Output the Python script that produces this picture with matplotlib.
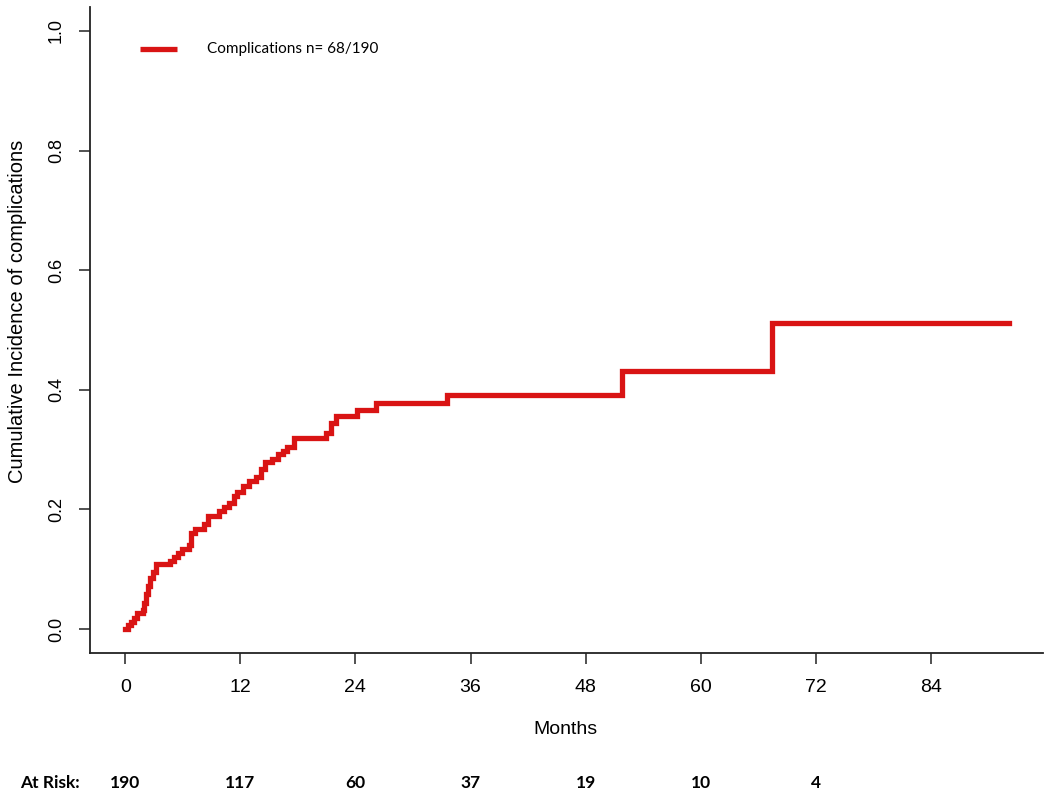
import matplotlib
matplotlib.use("Agg")
import matplotlib.pyplot as plt
import matplotlib.transforms as mtransforms

# event times (months) and cumulative incidence
months = [0, 0.3, 0.6, 0.9, 1.2, 1.8, 2.0, 2.2, 2.4, 2.6, 2.9, 3.2, 4.7, 5.1,
          5.5, 5.9, 6.6, 6.9, 7.3, 8.2, 8.6, 9.8, 10.3, 10.8, 11.3, 11.7, 12.3,
          12.9, 13.6, 14.1, 14.6, 15.3, 15.9, 16.4, 16.9, 17.6, 20.9, 21.4,
          22.0, 24.2, 26.1, 33.5, 51.8, 67.4]
incidence = [0, 0.006, 0.012, 0.018, 0.027, 0.032, 0.044, 0.058, 0.072, 0.085,
             0.096, 0.108, 0.114, 0.121, 0.127, 0.134, 0.141, 0.160, 0.168,
             0.175, 0.189, 0.198, 0.204, 0.211, 0.222, 0.230, 0.240, 0.248,
             0.255, 0.268, 0.279, 0.285, 0.292, 0.298, 0.304, 0.319, 0.328,
             0.344, 0.356, 0.366, 0.378, 0.391, 0.432, 0.512]
last_followup = 92.2

risk_months = [0, 12, 24, 36, 48, 60, 72]
at_risk = [190, 117, 60, 37, 19, 10, 4]

x_ticks = [0, 12, 24, 36, 48, 60, 72, 84]
y_ticks = [0.0, 0.2, 0.4, 0.6, 0.8, 1.0]

red = "#d91414"
regular = ["Liberation Sans", "DejaVu Sans"]
calibri_like = ["Lato", "DejaVu Sans"]

fig = plt.figure(figsize=(10.5, 7.97), dpi=100)
ax = fig.add_axes([90 / 1050, 144 / 797, (1043 - 90) / 1050, (790 - 144) / 797])

xs = months + [last_followup]
ys = incidence + [incidence[-1]]
ax.step(xs, ys, where="post", color=red, lw=3.8, solid_joinstyle="miter")

ax.set_xlim(-3.68, 95.7)
ax.set_ylim(-0.04, 1.04)

for side in ["top", "right"]:
    ax.spines[side].set_visible(False)
for side in ["left", "bottom"]:
    ax.spines[side].set_color("#222222")
    ax.spines[side].set_linewidth(1.3)

ax.set_xticks(x_ticks)
ax.set_xticklabels([str(t) for t in x_ticks], family=regular, fontsize=14)
ax.set_yticks(y_ticks)
ax.set_yticklabels(["%.1f" % t for t in y_ticks], family=regular, fontsize=13,
                   rotation=90, va="center")
ax.tick_params(axis="x", length=8, width=1.1, color="#222222", pad=11)
ax.tick_params(axis="y", length=8, width=1.1, color="#222222", pad=10)

fig.text(18 / 1050, 1 - 311 / 797, "Cumulative Incidence of complications",
         rotation=90, ha="center", va="center", family=regular, fontsize=14.5)
fig.text(565 / 1050, 1 - 730 / 797, "Months", ha="center", va="center",
         family=regular, fontsize=14)

# legend drawn by hand, as in the base R plot
fig.add_artist(plt.Line2D([140 / 1050, 177 / 1050], [1 - 49 / 797, 1 - 49 / 797],
                          color=red, lw=3.8, solid_capstyle="butt"))
fig.text(207 / 1050, 1 - 49 / 797, "Complications n= 68/190", ha="left",
         va="center", family=calibri_like, fontsize=11)

# number at risk table
trans = mtransforms.blended_transform_factory(ax.transData, fig.transFigure)
fig.text(20 / 1050, 1 - 783 / 797, "At Risk:", ha="left", va="center",
         family=calibri_like, fontsize=12.5, fontweight="bold")
for m, n in zip(risk_months, at_risk):
    ax.text(m, 1 - 783 / 797, str(n), transform=trans, ha="center", va="center",
            family=calibri_like, fontsize=12.5, fontweight="bold", clip_on=False)

fig.savefig("out.png", dpi=100)
